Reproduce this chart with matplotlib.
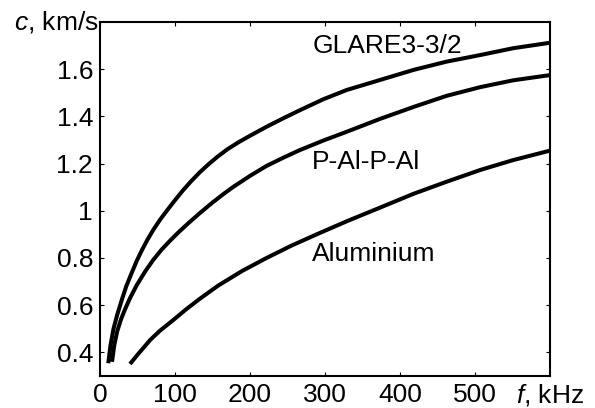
import matplotlib
matplotlib.use("Agg")
import matplotlib.pyplot as plt
from matplotlib.ticker import FuncFormatter

plt.rcParams['font.family'] = ['Liberation Sans', 'DejaVu Sans']
plt.rcParams['mathtext.fontset'] = 'custom'
plt.rcParams['mathtext.it'] = 'Liberation Sans:italic'
plt.rcParams['mathtext.rm'] = 'Liberation Sans'

# Phase velocity c (km/s) versus frequency f (kHz)
glare_f = [11, 14, 18, 23, 29, 35, 42, 49, 56, 63, 71, 80, 89, 100, 111, 122, 133, 145, 157,
           170, 185, 200, 222, 245, 267, 298, 329, 373, 418, 462, 507, 551, 600]
glare_c = [0.354, 0.43, 0.50, 0.56, 0.622, 0.68, 0.735, 0.788, 0.834, 0.876, 0.919, 0.962,
           1.0, 1.045, 1.088, 1.127, 1.163, 1.198, 1.23, 1.261, 1.291, 1.318, 1.356, 1.393,
           1.427, 1.473, 1.512, 1.554, 1.597, 1.632, 1.66, 1.689, 1.712]

papa_f = [16, 19, 23, 28, 33, 40, 49, 60, 71, 82, 93, 105, 118, 133, 150, 165, 178, 200, 222,
          245, 267, 298, 329, 373, 418, 462, 507, 551, 600]
papa_c = [0.36, 0.43, 0.49, 0.54, 0.58, 0.63, 0.685, 0.742, 0.792, 0.835, 0.872, 0.91, 0.948,
          0.99, 1.035, 1.072, 1.102, 1.148, 1.19, 1.226, 1.258, 1.298, 1.335, 1.389, 1.44,
          1.487, 1.524, 1.553, 1.575]

alu_f = [40, 50, 67, 80, 98, 115, 133, 158, 190, 222, 255, 293, 330, 373, 418, 462, 507, 551, 600]
alu_c = [0.351, 0.39, 0.453, 0.492, 0.538, 0.583, 0.627, 0.684, 0.746, 0.80, 0.852, 0.906,
         0.957, 1.013, 1.072, 1.123, 1.173, 1.215, 1.255]

x_ticks = [0, 100, 200, 300, 400, 500]
y_ticks = [0.4, 0.6, 0.8, 1.0, 1.2, 1.4, 1.6]

fig = plt.figure(figsize=(5.95, 4.08), dpi=100)
ax = fig.add_axes([100 / 595, 1 - 376 / 408, 450 / 595, 354 / 408])

for f, c in [(glare_f, glare_c), (papa_f, papa_c), (alu_f, alu_c)]:
    ax.plot(f, c, color='black', lw=2.9, solid_capstyle='butt', solid_joinstyle='round')

ax.set_xlim(0, 600)
ax.set_ylim(0.3, 1.8)
ax.set_xticks(x_ticks)
ax.set_yticks(y_ticks)
ax.yaxis.set_major_formatter(FuncFormatter(lambda v, p: f"{v:g}"))
ax.tick_params(direction='in', length=3, width=0.8, labelsize=19,
               top=True, right=True, pad=5, colors='black')
for s in ax.spines.values():
    s.set_linewidth(1.5)

ax.text(383, 1.698, 'GLARE3-3/2', fontsize=19, ha='center', va='center')
ax.text(355, 1.207, 'P-Al-P-Al', fontsize=19, ha='center', va='center')
ax.text(365, 0.817, 'Aluminium', fontsize=19, ha='center', va='center')

ax.text(-0.004, 1.0, '$c$, km/s', fontsize=19, ha='right', va='center', transform=ax.transAxes)
ax.text(0.925, -0.018, '$f$, kHz', fontsize=19, ha='left', va='top', transform=ax.transAxes)

fig.savefig('out.png', dpi=100)
